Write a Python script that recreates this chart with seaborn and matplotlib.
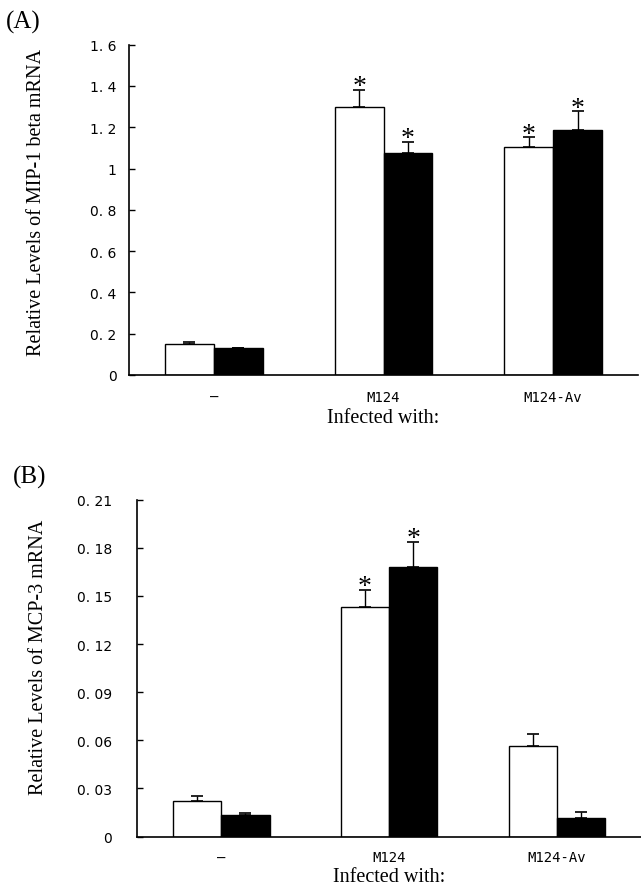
import seaborn as sns
import matplotlib.pyplot as plt
import numpy as np
import pandas as pd

groups = ['–', 'M124', 'M124-Av']
series = ['open', 'filled']

# panel A: MIP-1 beta
mip_open = [0.150, 1.300, 1.106]
mip_filled = [0.129, 1.077, 1.188]
mip_open_err = [0.008, 0.082, 0.046]
mip_filled_err = [0.004, 0.053, 0.090]
mip_star_open = [False, True, True]
mip_star_filled = [False, True, True]
mip_ticks = [0, 0.2, 0.4, 0.6, 0.8, 1.0, 1.2, 1.4, 1.6]
mip_ticklabels = ['0', '0. 2', '0. 4', '0. 6', '0. 8', '1', '1. 2', '1. 4', '1. 6']

# panel B: MCP-3
mcp_open = [0.0221, 0.1431, 0.0566]
mcp_filled = [0.0134, 0.1682, 0.0113]
mcp_open_err = [0.0033, 0.0108, 0.0075]
mcp_filled_err = [0.0014, 0.0156, 0.0038]
mcp_star_open = [False, True, False]
mcp_star_filled = [False, True, False]
mcp_ticks = [0, 0.03, 0.06, 0.09, 0.12, 0.15, 0.18, 0.21]
mcp_ticklabels = ['0', '0. 03', '0. 06', '0. 09', '0. 12', '0. 15', '0. 18', '0. 21']

sns.set_style('white')
plt.rcParams['font.family'] = ['DejaVu Sans']
plt.rcParams.update({'text.color': 'black', 'axes.labelcolor': 'black',
                     'xtick.color': 'black', 'ytick.color': 'black'})
serif = 'Liberation Serif'

fig = plt.figure(figsize=(6.41, 8.87), dpi=100)
W, H = 641, 887


def panel(rect, v_open, v_filled, e_open, e_filled, s_open, s_filled,
          ticks, ticklabels, ylabel, letter, letter_xy, ylab_xy, xlab_y, cat_pad, tick_pad):
    l, t, r, b = rect
    ax = fig.add_axes([l / W, 1 - b / H, (r - l) / W, (b - t) / H])
    df = pd.DataFrame({
        'group': groups * 2,
        'series': [series[0]] * 3 + [series[1]] * 3,
        'value': v_open + v_filled,
        'err': e_open + e_filled,
        'star': s_open + s_filled,
    })
    sns.barplot(data=df, x='group', y='value', hue='series', order=groups,
                hue_order=series, palette=['white', 'black'], edgecolor='black',
                linewidth=1, width=0.575, gap=0, errorbar=None, legend=False, ax=ax)
    for bar, (_, row) in zip(ax.patches, df.iterrows()):
        x = bar.get_x() + bar.get_width() / 2
        top = bar.get_height()
        ax.errorbar([x], [top], yerr=[[0], [row.err]], fmt='none', ecolor='black',
                    elinewidth=1, capsize=4, capthick=1.2)
        if row.star:
            ax.annotate('*', xy=(x, top + row.err), xytext=(0, -2.5),
                        textcoords='offset points', ha='center', va='baseline',
                        fontsize=20, family=serif)
    ax.set_xlim(-0.5, 2.5)
    ax.set_ylim(0, ticks[-1])
    ax.set_yticks(ticks)
    ax.set_yticklabels(ticklabels)
    ax.set_xticks(range(3))
    ax.set_xticklabels(groups, family='DejaVu Sans Mono', fontsize=10)
    ax.set_xticks([0.5, 1.5, 2.5], minor=True)
    ax.tick_params(axis='x', which='major', length=0, pad=cat_pad)
    ax.tick_params(axis='x', which='minor', direction='in', length=3, width=1)
    ax.tick_params(axis='y', direction='in', length=4, width=1,
                   labelsize=10, pad=tick_pad, left=True)
    for s in ['top', 'right']:
        ax.spines[s].set_visible(False)
    for s in ['left', 'bottom']:
        ax.spines[s].set_color('black')
        ax.spines[s].set_linewidth(1.2)
    ax.set_ylabel(ylabel, family=serif, fontsize=14.5)
    ax.yaxis.set_label_coords(ylab_xy[0] / W, 1 - ylab_xy[1] / H, transform=fig.transFigure)
    ax.set_xlabel('Infected with:', family=serif, fontsize=14.5)
    ax.xaxis.set_label_coords(((l + r) / 2) / W, 1 - xlab_y / H, transform=fig.transFigure)
    ax.xaxis.label.set_va('center')
    fig.text(letter_xy[0] / W, 1 - letter_xy[1] / H, letter, family=serif,
             fontsize=18, ha='left', va='center')
    return ax


panel((129, 45.7, 638, 376), mip_open, mip_filled, mip_open_err, mip_filled_err,
      mip_star_open, mip_star_filled, mip_ticks, mip_ticklabels,
      'Relative Levels of MIP-1 beta mRNA', '(A)', (6, 22), (46, 202), 419, 11, 9)

panel((137.3, 500.7, 641, 837.5), mcp_open, mcp_filled, mcp_open_err, mcp_filled_err,
      mcp_star_open, mcp_star_filled, mcp_ticks, mcp_ticklabels,
      'Relative Levels of MCP-3 mRNA', '(B)', (13, 477), (48, 657), 878, 10, 18)

fig.savefig('out.png', dpi=100)
